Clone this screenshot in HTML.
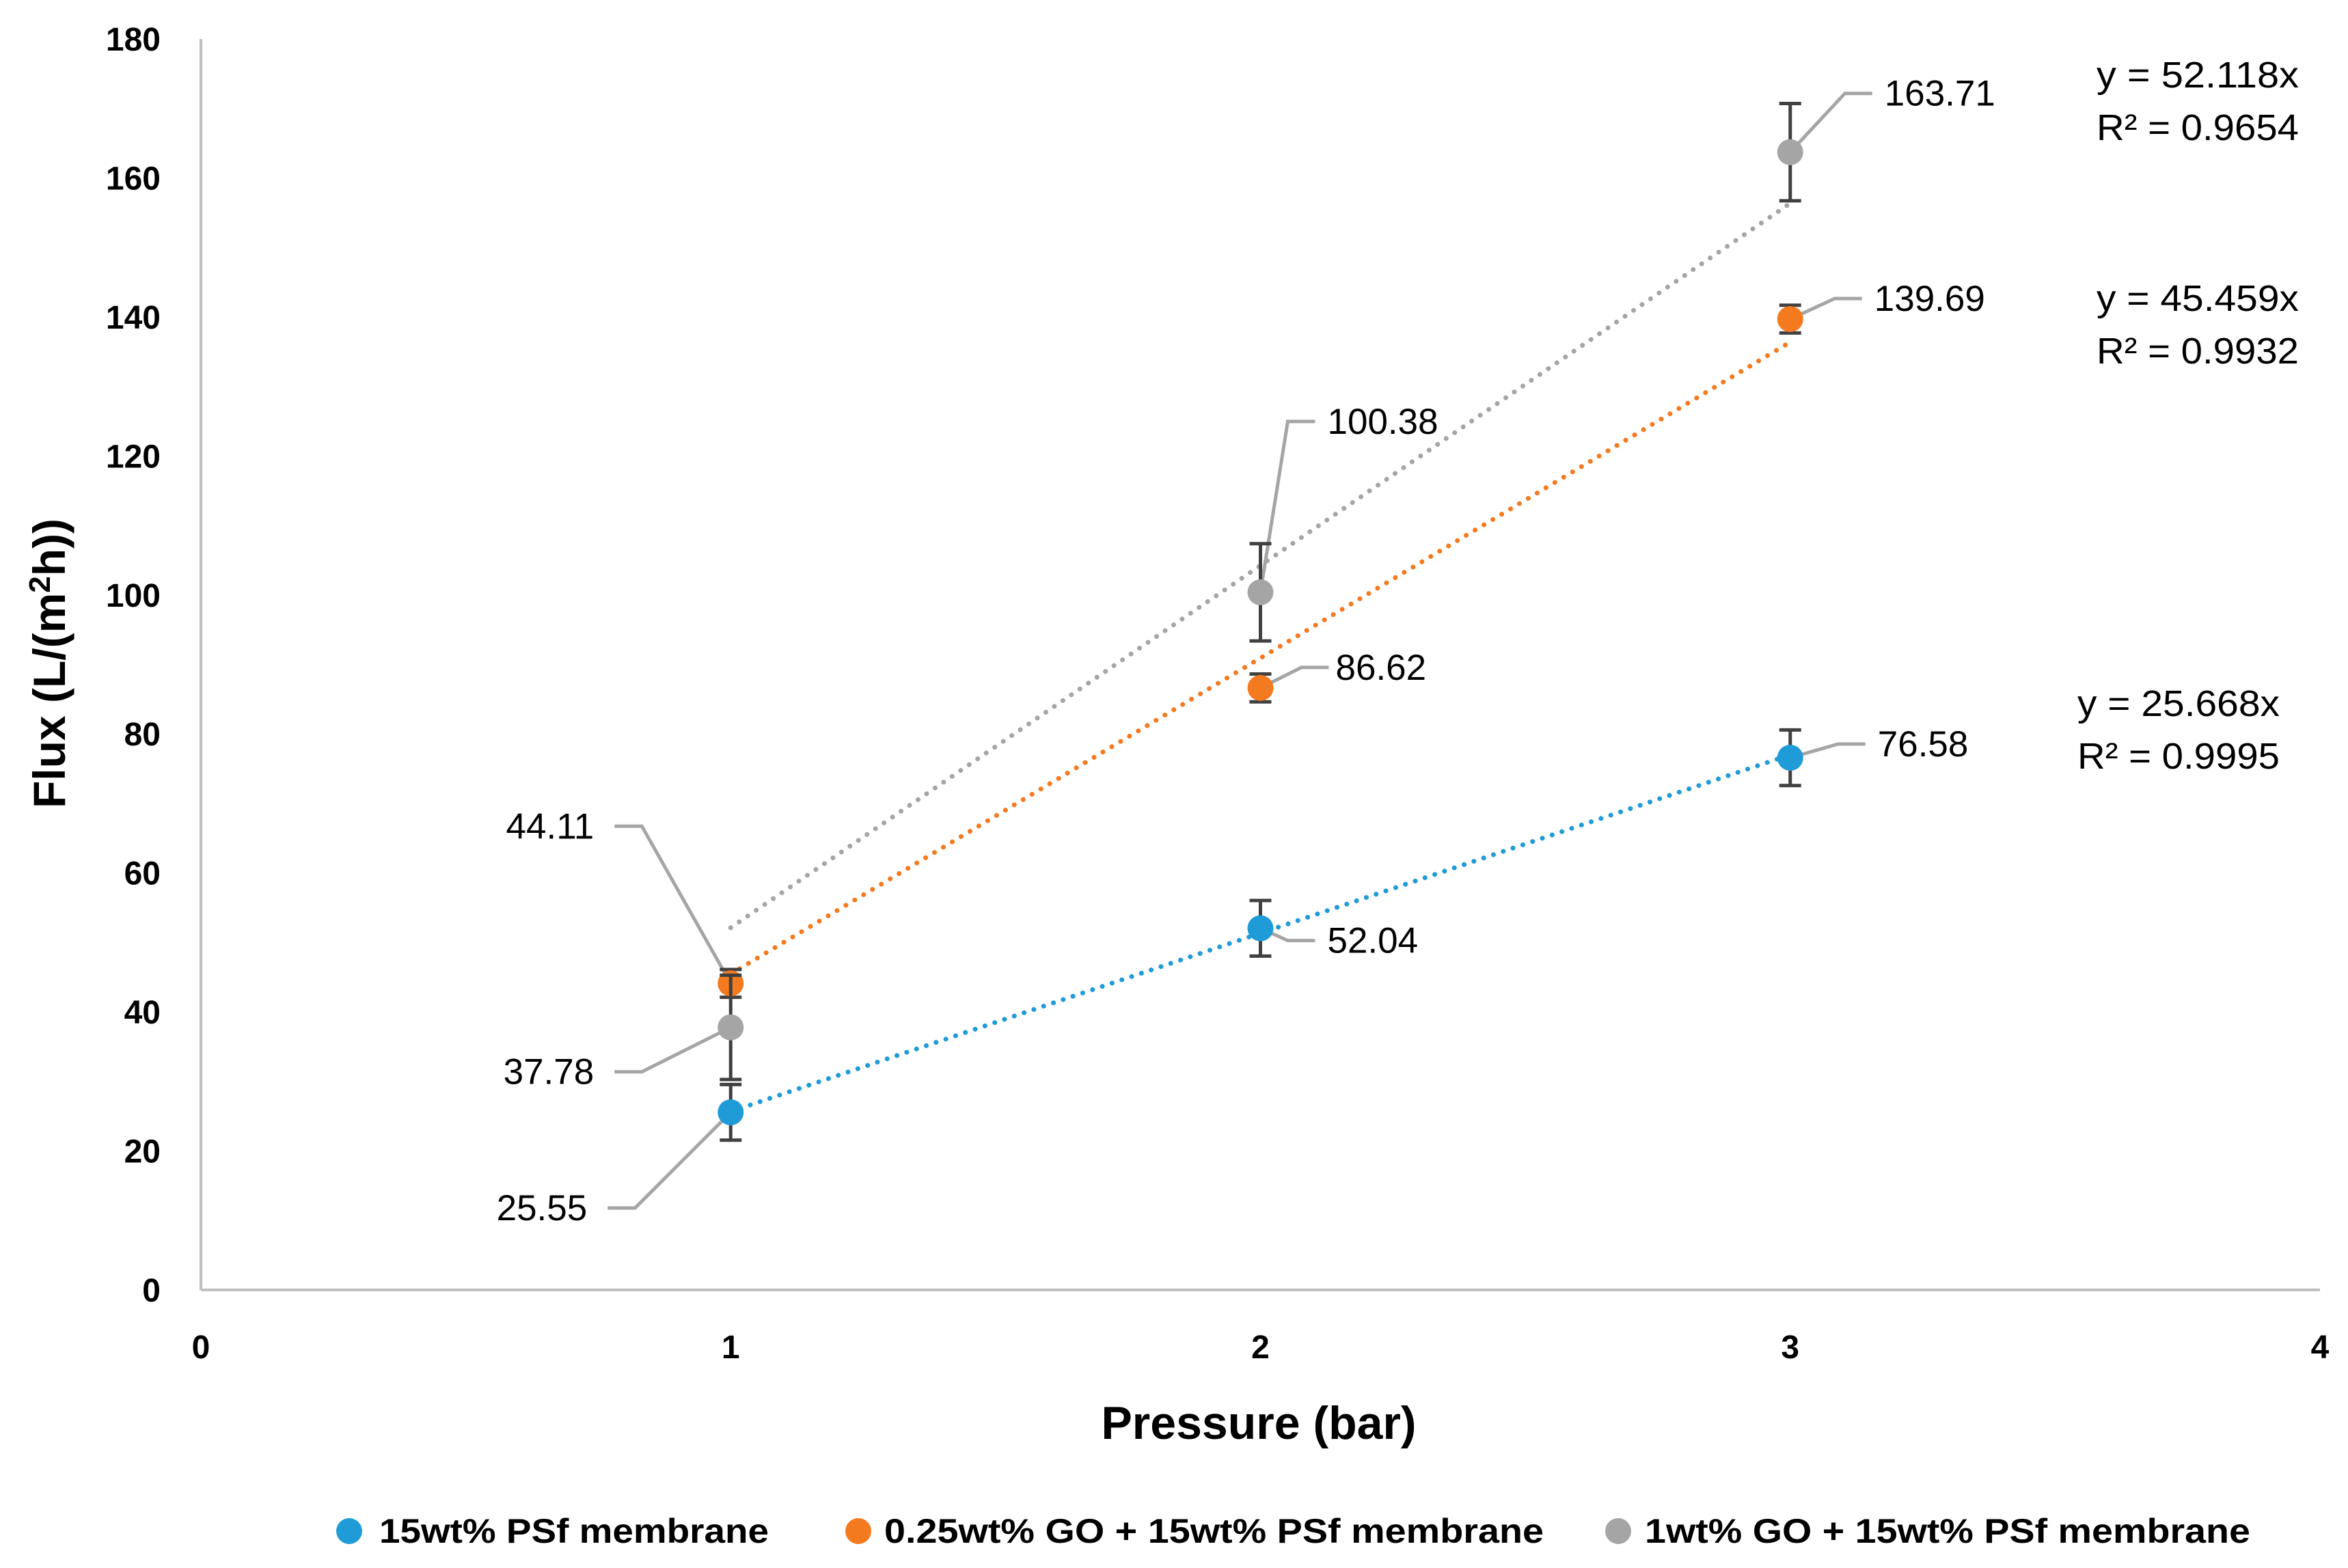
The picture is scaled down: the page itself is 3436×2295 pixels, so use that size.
<!DOCTYPE html>
<html><head><meta charset="utf-8"><style>
html,body{margin:0;padding:0;background:#fff;}
svg{display:block;font-family:"Liberation Sans",sans-serif;}
</style></head><body>
<svg id="chart" width="3436" height="2295" viewBox="0 0 3436 2295"></svg>
<script>
const categories = [1, 2, 3];
const seriesNames = ["15wt% PSf membrane", "0.25wt% GO + 15wt% PSf membrane", "1wt% GO + 15wt% PSf membrane"];
const blueValues = [25.55, 52.04, 76.58];
const orangeValues = [44.11, 86.62, 139.69];
const grayValues = [37.78, 100.38, 163.71];
const blueErrors = [4, 4, 4];
const orangeErrors = [2, 2, 2];
const grayErrors = [7.5, 7, 7];
const slopes = [25.668, 45.459, 52.118];
const rSquared = ["0.9995", "0.9932", "0.9654"];
const yTicks = [0, 20, 40, 60, 80, 100, 120, 140, 160, 180];
const xTicks = [0, 1, 2, 3, 4];

const NS = "http://www.w3.org/2000/svg";
const svg = document.getElementById("chart");
const X0 = 294, X1 = 3395, Y0 = 1888, Y1 = 57;
const xs = v => X0 + (v - 0) / 4 * (X1 - X0);
const ys = v => Y0 - v / 180 * (Y0 - Y1);
function mk(tag, attrs, parent) {
  const e = document.createElementNS(NS, tag);
  for (const k in attrs) e.setAttribute(k, attrs[k]);
  (parent || svg).appendChild(e);
  return e;
}
const colors = ["#1F9BD7", "#F47A20", "#A5A5A5"];
const values = [blueValues, orangeValues, grayValues];
const errors = [blueErrors, orangeErrors, grayErrors];

const ya = mk("line", {x1: X0, y1: Y1, x2: X0, y2: Y0, stroke: "#BFBFBF", "stroke-width": 4});


const xa = mk("line", {x1: X0, y1: Y0, x2: X1, y2: Y0, stroke: "#BFBFBF", "stroke-width": 4});



yTicks.forEach(t => {
  const e = mk("text", {x: 235, y: ys(t) + 17, "text-anchor": "end", "font-size": 48, "font-weight": "bold", fill: "#000"});
  e.textContent = t;
  
  
});
xTicks.forEach(t => {
  const e = mk("text", {x: xs(t), y: 1988, "text-anchor": "middle", "font-size": 48, "font-weight": "bold", fill: "#000"});
  e.textContent = t;
  
  
});

const xt = mk("text", {x: 1842, y: 2106, "text-anchor": "middle", "font-size": 68, "font-weight": "bold", fill: "#000"});
xt.textContent = "Pressure (bar)";


const yt = mk("text", {x: 0, y: 0, "text-anchor": "middle", "font-size": 66, "font-weight": "bold", fill: "#000", transform: "translate(95,971) rotate(-90)"});
yt.innerHTML = 'Flux (L/(m<tspan dy="-22" font-size="44">2</tspan><tspan dy="22">h))</tspan>';



slopes.forEach((s, i) => {
  const l = mk("line", {x1: xs(1), y1: ys(s * 1), x2: xs(3), y2: ys(s * 3), stroke: colors[i], "stroke-width": 7, "stroke-dasharray": "0.1 15", "stroke-linecap": "round"});
  
  
});

const leaders = [
  [[-140, 140, -10, "end"], [40, 18, 18, "start"], [70, -20, 18, "start"]],
  [[-130, -230, -10, "end"], [60, -30, 10, "start"], [65, -30, 18, "start"]],
  [[-130, 65, -10, "end"], [40, -250, 18, "start"], [80, -86, 18, "start"]]
];
values.forEach((vals, i) => {
  vals.forEach((v, j) => {
    const cx = xs(categories[j]), cy = ys(v);
    const lo = ys(v - errors[i][j]), hi = ys(v + errors[i][j]);
    const [dx, dy, ldx, anc] = leaders[i][j];
    const bx = cx + dx, by = cy + dy;
    const ex = bx + (anc === "end" ? -40 : 40);
    const ld = mk("polyline", {points: `${cx},${cy} ${bx},${by} ${ex},${by}`, fill: "none", stroke: "#A5A5A5", "stroke-width": 5});
    
    
    const eb = mk("path", {d: `M${cx},${lo}V${hi}M${cx-16},${lo}H${cx+16}M${cx-16},${hi}H${cx+16}`, stroke: "#404040", "stroke-width": 5, fill: "none"});
    
    
    const c = mk("circle", {cx: cx, cy: cy, r: 19, fill: colors[i]});
    
    
    const t = mk("text", {x: ex + (anc === "end" ? -ldx * -1 - 20 : ldx), y: by + 18, "text-anchor": anc, "font-size": 53, fill: "#000"});
    t.textContent = v.toFixed(2);
    
    
  });
});

const eqPos = [[3040, 1030], [3068, 437], [3068, 110]];
slopes.forEach((s, i) => {
  const [ex, ey] = eqPos[i];
  const a = mk("text", {x: ex, y: ey + 18, "font-size": 54, fill: "#000", textLength: 296, lengthAdjust: "spacingAndGlyphs"});
  a.textContent = "y = " + s.toFixed(3) + "x";
  
  
  const b = mk("text", {x: ex, y: ey + 95, "font-size": 54, fill: "#000", textLength: 296, lengthAdjust: "spacingAndGlyphs"});
  b.textContent = "R² = " + rSquared[i];
  
  
});

const legX = [[511, 555, 570], [1256, 1294, 965], [2368, 2407, 886]];
seriesNames.forEach((n, i) => {
  const c = mk("circle", {cx: legX[i][0], cy: 2241, r: 19, fill: colors[i]});
  
  
  const t = mk("text", {x: legX[i][1], y: 2258, "font-size": 50, "font-weight": "bold", fill: "#000", textLength: legX[i][2], lengthAdjust: "spacingAndGlyphs"});
  t.textContent = n;
  
  
});
</script>
</body></html>
